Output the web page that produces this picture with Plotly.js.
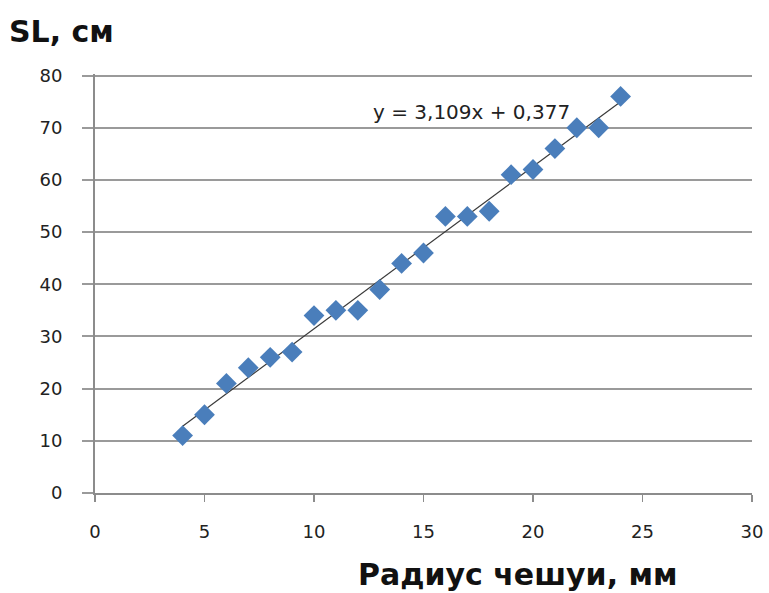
<!DOCTYPE html>
<html>
<head>
<meta charset="utf-8">
<script src="https://cdn.plot.ly/plotly-3.0.1.min.js"></script>
<style>html,body{margin:0;padding:0;background:#fff;}#chart{width:769px;height:593px;}</style>
</head>
<body>
<div id="chart"></div>
<script>
// Scale radius (mm)
const radius = [4, 5, 6, 7, 8, 9, 10, 11, 12, 13, 14, 15, 16, 17, 18, 19, 20, 21, 22, 23, 24];
// Standard length SL (cm)
const slLength = [11, 15, 21, 24, 26, 27, 34, 35, 35, 39, 44, 46, 53, 53, 54, 61, 62, 66, 70, 70, 76];
// Linear trendline endpoints (y = 3,109x + 0,377)
const trendX = [4, 24];
const trendY = [12.81, 74.99];
const trendLabel = "y = 3,109x + 0,377";
const xTicks = [0, 5, 10, 15, 20, 25, 30];
const yTicks = [0, 10, 20, 30, 40, 50, 60, 70, 80];

const FONT = "DejaVu Sans, Verdana, sans-serif";

const traces = [
  {
    x: trendX, y: trendY, type: "scatter", mode: "lines",
    line: {color: "#3a3a3a", width: 1.2},
    hoverinfo: "skip", showlegend: false
  },
  {
    x: radius, y: slLength, type: "scatter", mode: "markers",
    marker: {symbol: "diamond", size: 16, color: "#4a7ebb", line: {width: 0}},
    showlegend: false
  }
];

const layout = {
  width: 769, height: 593,
  margin: {l: 95, r: 17, t: 74, b: 100},
  paper_bgcolor: "#ffffff", plot_bgcolor: "#ffffff",
  showlegend: false,
  title: {
    text: "<b>SL, см</b>",
    font: {family: FONT, size: 30, color: "#111"},
    xref: "container", yref: "container",
    x: 9/769, xanchor: "left",
    y: 1 - 31/593, yanchor: "middle"
  },
  xaxis: {
    range: [0, 30], tickvals: xTicks, ticktext: xTicks.map(String),
    showgrid: false, zeroline: false,
    showline: true, linecolor: "#8c8c8c", linewidth: 2,
    ticks: "outside", ticklen: 7, tickcolor: "#8c8c8c", tickwidth: 1.5,
    tickfont: {family: FONT, size: 18, color: "#222"},
    ticklabelstandoff: 14,
    fixedrange: true
  },
  yaxis: {
    range: [0, 80.3], tickvals: yTicks, ticktext: yTicks.map(String),
    showgrid: true, gridcolor: "#9a9a9a", gridwidth: 2,
    zeroline: false,
    showline: true, linecolor: "#8c8c8c", linewidth: 2,
    ticks: "outside", ticklen: 11, tickcolor: "#9a9a9a", tickwidth: 2,
    tickfont: {family: FONT, size: 18, color: "#222"},
    ticklabelstandoff: 16,
    fixedrange: true
  },
  annotations: [
    {
      text: trendLabel, x: 17.2, y: 73, xref: "x", yref: "y",
      showarrow: false, xanchor: "center", yanchor: "middle",
      font: {family: FONT, size: 20, color: "#222"}
    },
    {
      text: "<b>Радиус чешуи, мм</b>",
      xref: "paper", yref: "paper",
      x: (519 - 95) / 658, y: -(574 - 493) / 419,
      xanchor: "center", yanchor: "middle", showarrow: false,
      font: {family: FONT, size: 30, color: "#111"}
    }
  ]
};

Plotly.newPlot("chart", traces, layout, {displayModeBar: false, staticPlot: true});
</script>
</body>
</html>
